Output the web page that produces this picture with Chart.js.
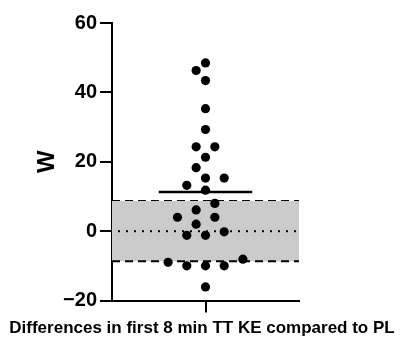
<!DOCTYPE html>
<html><head><meta charset="utf-8">
<script src="https://cdn.jsdelivr.net/npm/chart.js@4/dist/chart.umd.min.js"></script>
<style>html,body{margin:0;padding:0;background:#fff}#wrap{width:404px;height:341px}</style>
</head><body><div id="wrap"><canvas id="c" width="404" height="341"></canvas></div>
<script>
// ---- data ----
const categoryLabel = 'Differences in first 8 min TT KE compared to PL';
const yAxisTitle = 'W';
const values = [48.5, 46.3, 43.4, 35.3, 29.3, 24.3, 24.3, 21.3, 18.3, 15.3, 15.3, 13.2, 11.8, 8.0, 6.1, 4.0, 4.0, 2.0, -0.2, -1.2, -1.2, -8.1, -9.0, -10.0, -10.0, -10.0, -16.1];
const bandLimits = [-8.7, 8.7];
const referenceLine = [0];
const yTicks = [-20, 0, 20, 40, 60];

// ---- derived ----
const mean = values.reduce((a, b) => a + b, 0) / values.length;
const FONT = "'Liberation Sans', Arial, sans-serif";

const chart = new Chart(document.getElementById('c'), {
  type: 'scatter',
  data: {
    datasets: [
      { // points (positions computed after layout)
        data: values.map(v => ({ x: 0, y: v })), order: 0,
        pointRadius: 4.6, pointHoverRadius: 4.6,
        backgroundColor: '#000', borderWidth: 0, showLine: false
      },
      { // mean line
        data: [{ x: -0.5, y: mean }, { x: 0.5, y: mean }], order: 1,
        showLine: true, borderColor: '#000', borderWidth: 2.5, pointRadius: 0, fill: false
      },
      { // zero dotted line
        data: [{ x: -1, y: referenceLine[0] }, { x: 1, y: referenceLine[0] }], order: 2,
        showLine: true, borderColor: '#000', borderWidth: 2, borderDash: [2, 6], borderDashOffset: -6,
        pointRadius: 0, fill: false
      },
      { // lower band limit
        data: [{ x: -1, y: bandLimits[0] }, { x: 1, y: bandLimits[0] }], order: 3,
        showLine: true, borderColor: '#000', borderWidth: 2, borderDash: [8, 5],
        pointRadius: 0, fill: '+1', backgroundColor: '#cbcbcb'
      },
      { // upper band limit
        data: [{ x: -1, y: bandLimits[1] }, { x: 1, y: bandLimits[1] }], order: 4,
        showLine: true, borderColor: '#000', borderWidth: 2, borderDash: [8, 5],
        pointRadius: 0, fill: false
      }
    ]
  },
  options: {
    responsive: false,
    animation: false,
    devicePixelRatio: 1,
    layout: { padding: { top: 23, right: 0, bottom: 0, left: 0 } },
    plugins: {
      legend: { display: false },
      tooltip: { enabled: false },
      title: { display: true, position: 'bottom', text: categoryLabel, color: '#000',
        font: { family: FONT, size: 17, weight: 'bold' }, padding: { top: 0, bottom: 2.8 } }
    },
    scales: {
      x: {
        type: 'linear', min: -1, max: 1, position: 'bottom',
        afterBuildTicks: s => { s.ticks = [{ value: 0 }]; },
        afterFit: s => { s.height = 17.3; },
        ticks: { callback: () => '', padding: 0 },
        grid: { display: true, drawOnChartArea: false, drawTicks: true, tickLength: 12, color: '#000', lineWidth: 2 },
        border: { display: true, color: '#000', width: 2 }
      },
      y: {
        type: 'linear', min: yTicks[0], max: yTicks[yTicks.length - 1],
        afterBuildTicks: s => { s.ticks = yTicks.map(v => ({ value: v })); },
        afterFit: s => { s.width = 112; },
        ticks: { color: '#000', padding: 3, font: { family: FONT, size: 20, weight: 'bold' },
          callback: v => (v < 0 ? '\u2212' + Math.abs(v) : String(v)) },
        grid: { display: true, drawOnChartArea: false, drawTicks: true, tickLength: 12, color: '#000', lineWidth: 2 },
        border: { display: true, color: '#000', width: 2 },
        title: { display: true, text: yAxisTitle, color: '#000',
          font: { family: FONT, size: 24, weight: 'bold' }, padding: { top: 33, bottom: 0 } }
      },
      spacer: {
        type: 'linear', position: 'right', display: true,
        afterFit: s => { s.width = 105; },
        ticks: { display: false },
        grid: { display: false, drawTicks: false },
        border: { display: false }
      }
    }
  }
});

// scatter-column spreading: greedy collision avoidance in pixel space using the chart's scales
(function spreadPoints() {
  const xs = chart.scales.x, ys = chart.scales.y;
  const slot = 9.35, minDist = 12;
  const cx = xs.getPixelForValue(0);
  const order = values.map((v, i) => i).sort((a, b) => values[a] - values[b]);
  const placed = [];
  order.forEach(i => {
    const py = ys.getPixelForValue(values[i]);
    for (let k = 0; k < 40; k++) {
      const s = k === 0 ? 0 : (k % 2 ? -(k + 1) / 2 : k / 2);
      const px = cx + s * slot;
      if (placed.every(p => Math.hypot(p.px - px, p.py - py) >= minDist)) {
        placed.push({ px, py, x: xs.getValueForPixel(px), y: values[i] });
        break;
      }
    }
  });
  chart.data.datasets[0].data = placed.map(p => ({ x: p.x, y: p.y }));
  chart.update('none');
})();
</script>
</body></html>
